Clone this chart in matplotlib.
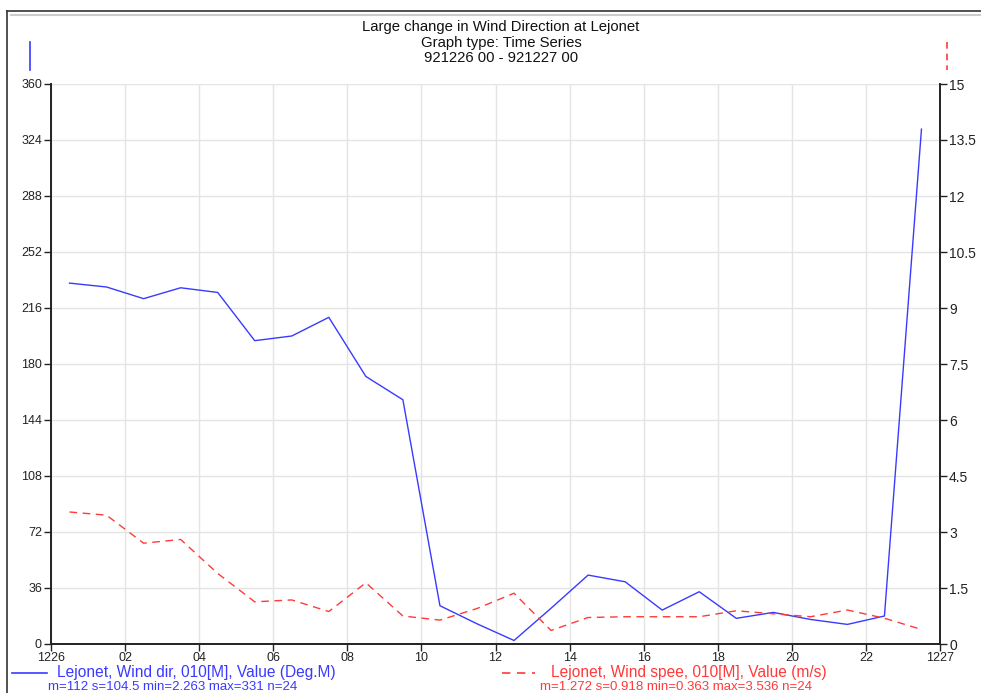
import matplotlib
matplotlib.use("Agg")
import matplotlib.pyplot as plt
from matplotlib.lines import Line2D

hours = [0.5, 1.5, 2.5, 3.5, 4.5, 5.5, 6.5, 7.5, 8.5, 9.5, 10.5, 11.5,
         12.5, 13.5, 14.5, 15.5, 16.5, 17.5, 18.5, 19.5, 20.5, 21.5, 22.5, 23.5]
wind_dir = [232, 229.5, 222, 229, 226, 195, 198, 210, 172, 157, 24.6, 13,
            2.263, 23, 44.3, 40, 21.8, 33.6, 16.5, 20.3, 15.8, 12.6, 18, 331]
wind_speed = [3.536, 3.45, 2.7, 2.8, 1.89, 1.13, 1.18, 0.87, 1.64, 0.75, 0.64, 0.95,
              1.36, 0.363, 0.71, 0.73, 0.73, 0.73, 0.89, 0.81, 0.73, 0.91, 0.69, 0.39]
x_ticks = [0, 2, 4, 6, 8, 10, 12, 14, 16, 18, 20, 22, 24]
x_labels = ["1226", "02", "04", "06", "08", "10", "12", "14", "16", "18", "20", "22", "1227"]
left_ticks = [0, 36, 72, 108, 144, 180, 216, 252, 288, 324, 360]
right_ticks = [0, 1.5, 3, 4.5, 6, 7.5, 9, 10.5, 12, 13.5, 15]
right_labels = ["0", "1.5", "3", "4.5", "6", "7.5", "9", "10.5", "12", "13.5", "15"]

title_lines = ["Large change in Wind Direction at Lejonet", "Graph type: Time Series",
               "921226 00 - 921227 00"]
label_dir = "Lejonet, Wind dir, 010[M], Value (Deg.M)"
stats_dir = "m=112 s=104.5 min=2.263 max=331 n=24"
label_spd = "Lejonet, Wind spee, 010[M], Value (m/s)"
stats_spd = "m=1.272 s=0.918 min=0.363 max=3.536 n=24"

BLUE = "#3a3aff"
RED = "#ff3a3a"
FONT = "Liberation Sans"
plt.rcParams['font.family'] = [FONT, 'DejaVu Sans']

W, H = 981, 693
fig = plt.figure(figsize=(W / 100, H / 100), dpi=100)

def fx(px):
    return px / W

def fy(py):
    return 1 - py / H

ax = fig.add_axes([fx(51), fy(644), fx(940) - fx(51), fy(84) - fy(644)])
ax2 = ax.twinx()

ax.plot(hours, wind_dir, color=BLUE, lw=1.0, zorder=3)
ax2.plot(hours, wind_speed, color=RED, lw=1.0, dashes=(5.5, 4))

ax.set_xlim(0, 24)
ax.set_ylim(0, 360)
ax2.set_ylim(0, 15)
ax.set_xticks(x_ticks)
ax.set_xticklabels(x_labels, fontsize=9)
ax.set_yticks(left_ticks)
ax.set_yticklabels([str(v) for v in left_ticks], fontsize=9)
ax2.set_yticks(right_ticks)
ax2.set_yticklabels(right_labels, fontsize=10)

ax.grid(True, color="#e4e4e4", lw=1.0)
ax.set_axisbelow(True)

for a in (ax, ax2):
    a.spines['top'].set_visible(False)
    for s in ('left', 'right', 'bottom'):
        a.spines[s].set_color("#222222")
        a.spines[s].set_linewidth(1.2)
    a.tick_params(length=5, width=1.0, color="#222222",
                  labelcolor="#222222", pad=1.5)

ax.tick_params(axis='x', pad=0.5)

# Title
for line, base in zip(title_lines, [31, 46.5, 61.5]):
    fig.text(fx(501), fy(base), line, ha='center', va='baseline',
             fontsize=10.7, color="#111111")

# Series markers at top
fig.add_artist(Line2D([fx(30), fx(30)], [fy(42), fy(70)], color=BLUE, lw=1.2))
fig.add_artist(Line2D([fx(947), fx(947)], [fy(42), fy(70)], color=RED, lw=1.2,
                      dashes=(4, 3)))

# Frame
fig.add_artist(Line2D([fx(7), 1], [fy(11), fy(11)], color="#333333", lw=1.2))
fig.add_artist(Line2D([fx(7), fx(7)], [fy(11), 0], color="#333333", lw=1.2))
fig.add_artist(Line2D([fx(11), 1], [fy(15), fy(15)], color="#cccccc", lw=1.5))

# Bottom legend
fig.add_artist(Line2D([fx(12), fx(47)], [fy(673), fy(673)], color=BLUE, lw=1.2))
fig.text(fx(57), fy(677), label_dir, color=BLUE, fontsize=11.2, va='baseline', ha='left')
fig.text(fx(48), fy(690), stats_dir, color=BLUE, fontsize=9.5, va='baseline', ha='left')

fig.add_artist(Line2D([fx(502), fx(535)], [fy(673), fy(673)], color=RED, lw=1.2,
                      dashes=(5, 4)))
fig.text(fx(551), fy(677), label_spd, color=RED, fontsize=11.2, va='baseline', ha='left')
fig.text(fx(540), fy(690), stats_spd, color=RED, fontsize=9.5, va='baseline', ha='left')

fig.savefig("out.png", dpi=100)
